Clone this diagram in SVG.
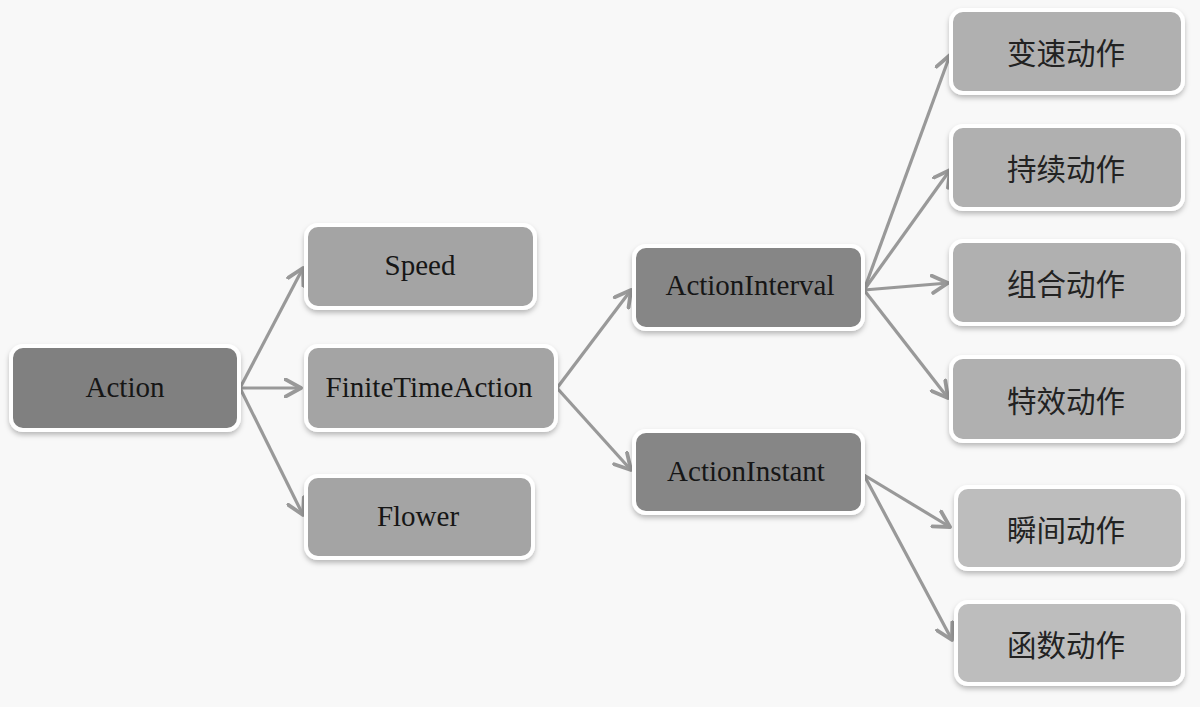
<svg xmlns="http://www.w3.org/2000/svg" width="1200" height="707" viewBox="0 0 1200 707">
<style>
.box{stroke:#ffffff;stroke-width:4;filter:url(#sh)}
.en{font-family:"Liberation Serif","Times New Roman",serif;font-size:29px;fill:#161616;text-anchor:middle;dominant-baseline:central}
.cn{font-family:"Noto Sans CJK SC","Noto Sans",sans-serif;font-size:29.5px;fill:#222222;text-anchor:middle;dominant-baseline:central}
.c{stroke:#999999;stroke-width:3.2;fill:none;marker-end:url(#ah)}
</style>
<defs>
<filter id="sh" x="-10%" y="-20%" width="120%" height="150%">
<feDropShadow dx="0" dy="3" stdDeviation="2.5" flood-color="#000" flood-opacity="0.25"/>
</filter>
<marker id="ah" viewBox="0 0 12 12" refX="10" refY="6" markerWidth="6.5" markerHeight="6.5" orient="auto" markerUnits="strokeWidth">
<path d="M1,1 L10,6 L1,11" fill="none" stroke="#999999" stroke-width="2.2" stroke-linecap="round" stroke-linejoin="round"/>
</marker>
</defs>
<rect width="1200" height="707" fill="#f8f8f8"/>
<g id="connectors">
<line class="c" x1="240" y1="388" x2="303" y2="268"/>
<line class="c" x1="240" y1="388" x2="301" y2="388"/>
<line class="c" x1="240" y1="388" x2="303" y2="515"/>
<line class="c" x1="557" y1="388" x2="631" y2="290"/>
<line class="c" x1="557" y1="388" x2="631" y2="470"/>
<line class="c" x1="864" y1="290" x2="950" y2="55"/>
<line class="c" x1="864" y1="290" x2="950" y2="170"/>
<line class="c" x1="864" y1="290" x2="948" y2="283"/>
<line class="c" x1="864" y1="290" x2="948" y2="398"/>
<line class="c" x1="864" y1="475" x2="950" y2="527"/>
<line class="c" x1="864" y1="475" x2="952" y2="640"/>
</g>
<g id="n-action"><rect class="box" x="11" y="346" width="228" height="84" rx="12" fill="#808080"/><text class="en" x="125" y="387">Action</text></g>
<g id="n-speed"><rect class="box" x="306" y="225" width="229" height="83" rx="12" fill="#a4a4a4"/><text class="en" x="420" y="265">Speed</text></g>
<g id="n-fta"><rect class="box" x="306" y="346" width="250" height="84" rx="12" fill="#a4a4a4"/><text class="en" x="429" y="387">FiniteTimeAction</text></g>
<g id="n-flower"><rect class="box" x="306" y="476" width="227" height="82" rx="12" fill="#a4a4a4"/><text class="en" x="418" y="516">Flower</text></g>
<g id="n-interval"><rect class="box" x="634" y="246" width="229" height="83" rx="12" fill="#868686"/><text class="en" x="750" y="285">ActionInterval</text></g>
<g id="n-instant"><rect class="box" x="634" y="431" width="229" height="82" rx="12" fill="#868686"/><text class="en" x="746" y="471">ActionInstant</text></g>
<g id="n-biansu"><rect class="box" x="951" y="10" width="232" height="83" rx="12" fill="#b0b0b0"/><text class="cn" x="1066" y="51">变速动作</text></g>
<g id="n-chixu"><rect class="box" x="951" y="126" width="232" height="83" rx="12" fill="#b0b0b0"/><text class="cn" x="1066" y="167">持续动作</text></g>
<g id="n-zuhe"><rect class="box" x="951" y="241" width="232" height="83" rx="12" fill="#b0b0b0"/><text class="cn" x="1066" y="282">组合动作</text></g>
<g id="n-texiao"><rect class="box" x="951" y="357" width="232" height="84" rx="12" fill="#b0b0b0"/><text class="cn" x="1066" y="399">特效动作</text></g>
<g id="n-shunjian"><rect class="box" x="956" y="487" width="227" height="82" rx="12" fill="#bdbdbd"/><text class="cn" x="1066" y="528">瞬间动作</text></g>
<g id="n-hanshu"><rect class="box" x="956" y="602" width="227" height="82" rx="12" fill="#bdbdbd"/><text class="cn" x="1066" y="643">函数动作</text></g>
</svg>
